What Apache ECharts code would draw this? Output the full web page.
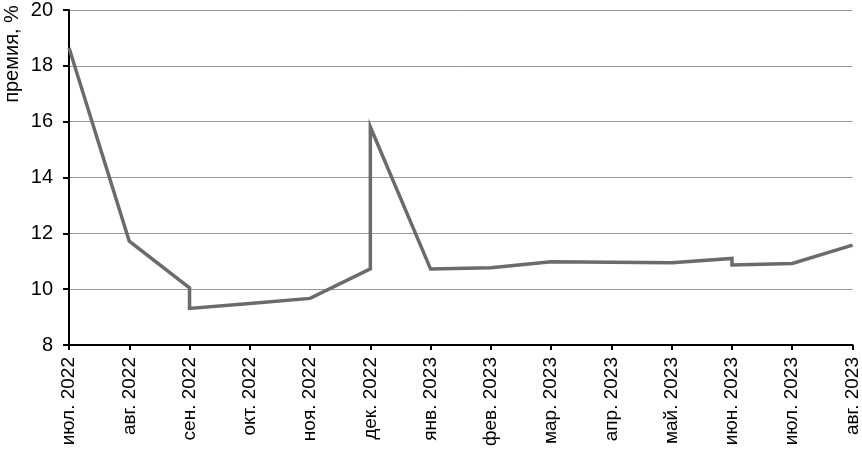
<!DOCTYPE html>
<html>
<head>
<meta charset="utf-8">
<script src="https://cdn.jsdelivr.net/npm/echarts@6/dist/echarts.min.js"></script>
<style>html,body{margin:0;padding:0;background:#fff;}#c{width:862px;height:454px;}</style>
</head>
<body>
<div id="c"></div>
<script>
var categories = ['июл. 2022','авг. 2022','сен. 2022','окт. 2022','ноя. 2022','дек. 2022','янв. 2023','фев. 2023','мар. 2023','апр. 2023','май. 2023','июн. 2023','июл. 2023','авг. 2023'];
// month index of each point (repeated index = vertical jump)
var pointMonth = [0, 1, 2, 2, 3, 4, 5, 5, 6, 7, 8, 9, 10, 11, 11, 12, 13];
var pointValue = [18.65, 11.72, 10.05, 9.31, 9.49, 9.67, 10.73, 15.81, 10.72, 10.77, 10.98, 10.96, 10.95, 11.1, 10.87, 10.92, 11.58];
var yTicks = [8, 10, 12, 14, 16, 18, 20];
var yTitle = 'премия, %';

var data = pointMonth.map(function(m, i){ return [m, pointValue[i]]; });
var font = 'Liberation Sans, Arial, sans-serif';
var chart = echarts.init(document.getElementById('c'));
chart.setOption({
  animation: false,
  grid: {left: 69, right: 8, top: 7, bottom: 109, containLabel: false},
  xAxis: {
    type: 'value', min: 0, max: categories.length - 1, interval: 1,
    axisLine: {show: true, lineStyle: {color: '#000', width: 2}},
    axisTick: {show: true, length: 5, lineStyle: {color: '#000', width: 2}},
    splitLine: {show: false},
    axisLabel: {
      rotate: 90, margin: 12, color: '#000', fontSize: 19, fontFamily: font,
      formatter: function(v){ return categories[Math.round(v)] || ''; }
    }
  },
  yAxis: {
    type: 'value', min: yTicks[0], max: yTicks[yTicks.length-1], interval: 2,
    axisLine: {show: true, lineStyle: {color: '#000', width: 2}},
    axisTick: {show: true, length: 6, lineStyle: {color: '#000', width: 2}},
    splitLine: {show: true, lineStyle: {color: '#999', width: 1}},
    axisLabel: {margin: 16, color: '#000', fontSize: 20, fontFamily: font}
  },
  graphic: [{
    type: 'text', x: 12, y: 54, rotation: Math.PI/2,
    style: {text: yTitle, fill: '#000', font: '20px ' + font, textAlign: 'center', textVerticalAlign: 'middle'}
  }],
  series: [{
    type: 'line', data: data, showSymbol: false, symbol: 'none',
    lineStyle: {color: '#6b6b6b', width: 3.5, join: 'miter'}
  }]
});
</script>
</body>
</html>
